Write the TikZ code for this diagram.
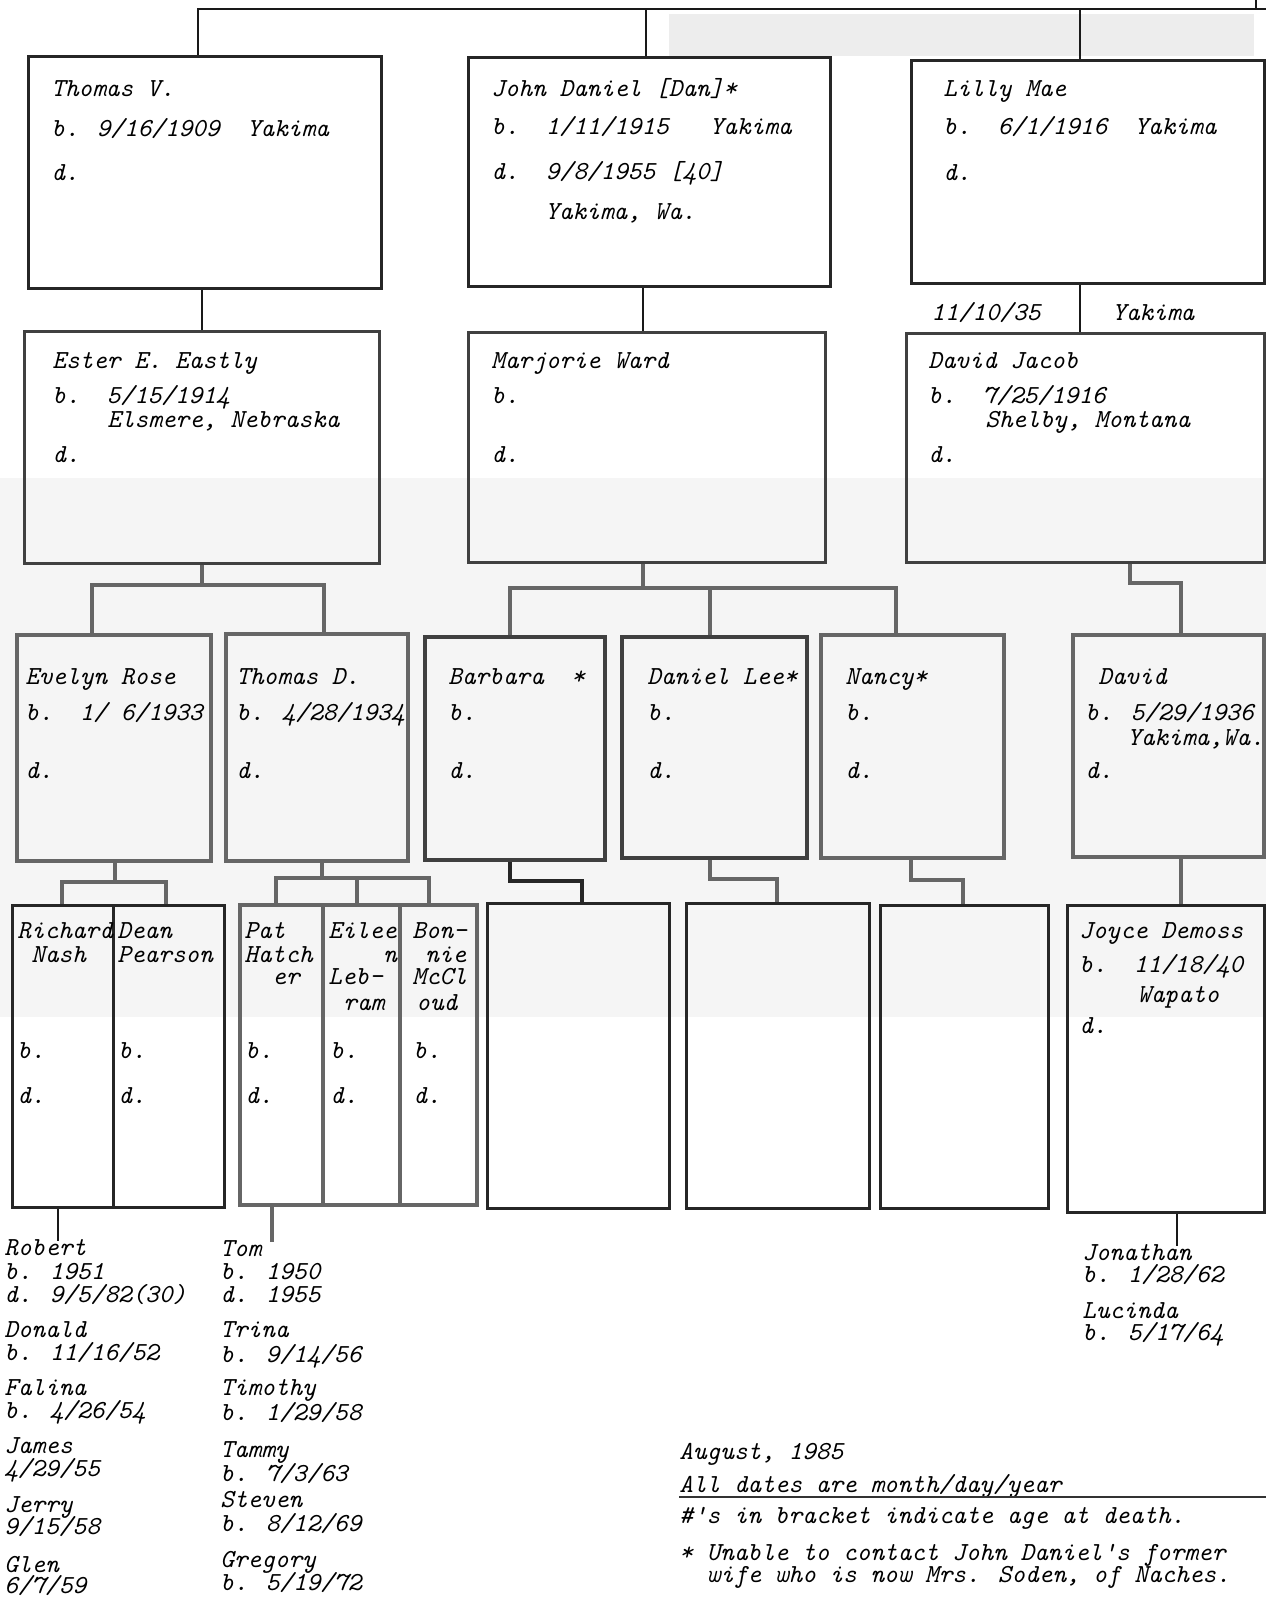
\documentclass[tikz,border=0pt]{standalone}
\usepackage{fontspec}
\usetikzlibrary{fit}
\newcommand\tw{\ttfamily\itshape\fontsize{13}{15}\selectfont}
\begin{document}
\begin{tikzpicture}[x=0.5pt,y=-0.5pt,
  boxa/.style={draw=black!85, line width=1.5pt, inner sep=0pt},
  boxb/.style={draw=black!60, line width=2pt, inner sep=0pt},
  link/.style={draw=black!90, line width=1pt},
  glink/.style={draw=black!60, line width=1.6pt},
  t/.style={anchor=west, inner sep=0pt, font=\tw, text=black, text height=7pt, text depth=1.8pt}]
\useasboundingbox (0,0) rectangle (1266,1601);
\fill[white] (0,0) rectangle (1266,1601);
% scan shading
\fill[black!4] (0,478) rectangle (1266,1017);
\fill[black!7] (669,14) rectangle (1254,56);
% helper coordinates
\coordinate (tr) at (1266,9);
\coordinate (tup) at (1256,0);
\coordinate (xa) at (198,0);
\coordinate (xb) at (646,0);
\coordinate (xc) at (1080,0);
\coordinate (xa2) at (202,0);
\coordinate (xb2) at (643,0);
\coordinate (h1) at (0,585);
\coordinate (e1) at (92,0);
\coordinate (e2) at (324,0);
\coordinate (h2) at (0,588);
\coordinate (m1) at (510,0);
\coordinate (m2) at (710,0);
\coordinate (m3) at (896,0);
\coordinate (h3) at (0,583);
\coordinate (xd1) at (1130,0);
\coordinate (xd2) at (1181,0);
\coordinate (h4) at (0,882);
\coordinate (p1) at (115,0);
\coordinate (p2) at (62,0);
\coordinate (p3) at (166,0);
\coordinate (h5) at (0,878);
\coordinate (q1) at (322,0);
\coordinate (q2) at (276,0);
\coordinate (q3) at (357,0);
\coordinate (q4) at (429,0);
\coordinate (h6) at (0,881);
\coordinate (r1) at (510,0);
\coordinate (r2) at (582,0);
\coordinate (h7) at (0,879);
\coordinate (s1) at (710,0);
\coordinate (s2) at (777,0);
\coordinate (h8) at (0,880);
\coordinate (u1) at (911,0);
\coordinate (u2) at (963,0);
\coordinate (v1) at (58,0);
\coordinate (v2) at (272,0);
\coordinate (v3) at (1177,0);
% row 1
\node[boxa, fit={(28,56) (381,288)}] (tv) {};
\node[boxa, fit={(468,57) (830,286)}] (jd) {};
\node[boxa, fit={(911,60) (1264,283)}] (lm) {};
% row 2
\node[boxa, draw=black!75, fit={(24,331) (379,563)}] (ee) {};
\node[boxa, draw=black!75, fit={(468,332) (825,562)}] (mw) {};
\node[boxa, draw=black!75, fit={(906,333) (1264,562)}] (dj) {};
% row 3
\node[boxb, fit={(17,635) (211,861)}] (er) {};
\node[boxb, fit={(226,634) (408,861)}] (td) {};
\node[boxb, draw=black!75, fit={(425,637) (605,860)}] (bb) {};
\node[boxb, draw=black!75, fit={(622,637) (807,858)}] (dl) {};
\node[boxb, fit={(821,635) (1004,858)}] (nc) {};
\node[boxb, fit={(1073,635) (1264,857)}] (dv) {};
% row 4
\node[boxa, fit={(12,905) (113,1207)}] (rn) {};
\node[boxa, fit={(113,905) (224,1207)}] (dp) {};
\node[boxb, fit={(240,905) (323,1205)}] (ph) {};
\node[boxb, fit={(323,905) (400,1205)}] (el) {};
\node[boxb, fit={(400,905) (477,1205)}] (bm) {};
\node[boxa, fit={(487,903) (669,1208)}] (bla) {};
\node[boxa, fit={(686,903) (869,1208)}] (blb) {};
\node[boxa, fit={(880,905) (1048,1208)}] (blc) {};
\node[boxa, fit={(1067,905) (1264,1212)}] (jy) {};
% texts row 1
\node[t] (t1a) at (51,91) {Thomas V.};
\node[t] (t1b) at (51,131) {b. 9/16/1909~~Yakima};
\node[t] (t1c) at (51,175) {d.};
\node[t] (t2a) at (491,91) {John Daniel [Dan]*};
\node[t] (t2b) at (491,129) {b.~~1/11/1915~~~Yakima};
\node[t] (t2c) at (491,174) {d.~~9/8/1955~[40]};
\node[t] (t2d) at (545,214) {Yakima, Wa.};
\node[t] (t3a) at (943,91) {Lilly Mae};
\node[t] (t3b) at (943,129) {b.~~6/1/1916~~Yakima};
\node[t] (t3c) at (943,175) {d.};
\node[t] (ma) at (931,315) {11/10/35};
\node[t] (mb) at (1112,315) {Yakima};
% texts row 2
\node[t] (t4a) at (52,363) {Ester E. Eastly};
\node[t] (t4b) at (52,398) {b.~~5/15/1914};
\node[t] (t4c) at (107,422) {Elsmere, Nebraska};
\node[t] (t4d) at (52,457) {d.};
\node[t] (t5a) at (491,363) {Marjorie Ward};
\node[t] (t5b) at (491,398) {b.};
\node[t] (t5c) at (491,457) {d.};
\node[t] (t6a) at (928,363) {David Jacob};
\node[t] (t6b) at (928,398) {b.~~7/25/1916};
\node[t] (t6c) at (985,422) {Shelby, Montana};
\node[t] (t6d) at (928,457) {d.};
% texts row 3
\node[t] (t7a) at (25,679) {Evelyn Rose};
\node[t] (t7b) at (25,715) {b.~~1/~6/1933};
\node[t] (t7c) at (25,773) {d.};
\node[t] (t8a) at (236,679) {Thomas D.};
\node[t] (t8b) at (236,715) {b. 4/28/1934};
\node[t] (t8c) at (236,773) {d.};
\node[t] (t9a) at (448,679) {Barbara~~*};
\node[t] (t9b) at (448,715) {b.};
\node[t] (t9c) at (448,773) {d.};
\node[t] (t10a) at (647,679) {Daniel Lee*};
\node[t] (t10b) at (647,715) {b.};
\node[t] (t10c) at (647,773) {d.};
\node[t] (t11a) at (845,679) {Nancy*};
\node[t] (t11b) at (845,715) {b.};
\node[t] (t11c) at (845,773) {d.};
\node[t] (t12a) at (1098,679) {David};
\node[t] (t12b) at (1085,715) {b. 5/29/1936};
\node[t] (t12c) at (1127,740) {Yakima,Wa.};
\node[t] (t12d) at (1085,773) {d.};
% texts row 4
\node[t] (r1a) at (17,933) {Richard};
\node[t] (r1b) at (31,957) {Nash};
\node[t] (r1c) at (17,1053) {b.};
\node[t] (r1d) at (17,1098) {d.};
\node[t] (r2a) at (117,933) {Dean};
\node[t] (r2b) at (117,957) {Pearson};
\node[t] (r2c) at (118,1053) {b.};
\node[t] (r2d) at (118,1098) {d.};
\node[t] (r3a) at (244,933) {Pat};
\node[t] (r3b) at (244,957) {Hatch};
\node[t] (r3c) at (272,979) {er};
\node[t] (r3d) at (245,1053) {b.};
\node[t] (r3e) at (245,1098) {d.};
\node[t] (r4a) at (328,933) {Eilee};
\node[t] (r4b) at (383,957) {n};
\node[t] (r4c) at (328,979) {Leb-};
\node[t] (r4d) at (343,1005) {ram};
\node[t] (r4e) at (330,1053) {b.};
\node[t] (r4f) at (330,1098) {d.};
\node[t] (r5a) at (412,933) {Bon-};
\node[t] (r5b) at (425,957) {nie};
\node[t] (r5c) at (412,979) {McCl};
\node[t] (r5d) at (416,1005) {oud};
\node[t] (r5e) at (413,1053) {b.};
\node[t] (r5f) at (413,1098) {d.};
\node[t] (r6a) at (1079,933) {Joyce Demoss};
\node[t] (r6b) at (1079,967) {b.~~11/18/40};
\node[t] (r6c) at (1137,997) {Wapato};
\node[t] (r6d) at (1079,1028) {d.};
% children lists
\node[t] (ca1) at (4,1250) {Robert};
\node[t] (ca2) at (4,1274) {b. 1951};
\node[t] (ca3) at (4,1297) {d. 9/5/82(30)};
\node[t] (ca4) at (4,1332) {Donald};
\node[t] (ca5) at (4,1355) {b. 11/16/52};
\node[t] (ca6) at (4,1390) {Falina};
\node[t] (ca7) at (4,1413) {b. 4/26/54};
\node[t] (ca8) at (4,1448) {James};
\node[t] (ca9) at (4,1471) {4/29/55};
\node[t] (ca10) at (4,1507) {Jerry};
\node[t] (ca11) at (4,1529) {9/15/58};
\node[t] (ca12) at (4,1567) {Glen};
\node[t] (ca13) at (4,1588) {6/7/59};
\node[t] (cb1) at (220,1251) {Tom};
\node[t] (cb2) at (220,1274) {b. 1950};
\node[t] (cb3) at (220,1297) {d. 1955};
\node[t] (cb4) at (220,1332) {Trina};
\node[t] (cb5) at (220,1357) {b. 9/14/56};
\node[t] (cb6) at (220,1390) {Timothy};
\node[t] (cb7) at (220,1415) {b. 1/29/58};
\node[t] (cb8) at (220,1452) {Tammy};
\node[t] (cb9) at (220,1476) {b. 7/3/63};
\node[t] (cb10) at (220,1502) {Steven};
\node[t] (cb11) at (220,1526) {b. 8/12/69};
\node[t] (cb12) at (220,1562) {Gregory};
\node[t] (cb13) at (220,1585) {b. 5/19/72};
\node[t] (cc1) at (1082,1255) {Jonathan};
\node[t] (cc2) at (1082,1277) {b. 1/28/62};
\node[t] (cc3) at (1082,1313) {Lucinda};
\node[t] (cc4) at (1082,1335) {b. 5/17/64};
% notes
\node[t] (n1) at (679,1454) {August, 1985};
\node[t] (n2) at (679,1487) {All dates are month/day/year};
\node[t] (n3) at (679,1518) {\#'s in bracket indicate age at death.};
\node[t] (n4) at (679,1555) {* Unable to contact John Daniel's former};
\node[t] (n5) at (679,1577) {~~wife who is now Mrs. Soden, of Naches.};
\draw[black!80, line width=1.2pt] (n2.west |- 0,1497) -- (1266,1497);
% connectors generation 1
\draw[link] (tv.north -| xa) |- (tr);
\draw[link] (jd.north -| xb) -- (xb |- tr);
\draw[link] (lm.north -| xc) -- (xc |- tr);
\draw[link] (tup) -- (tup |- tr);
% marriages
\draw[link] (tv.south -| xa2) -- (ee.north -| xa2);
\draw[link] (jd.south -| xb2) -- (mw.north -| xb2);
\draw[link] (lm.south -| xc) -- (dj.north -| xc);
% to row 3
\draw[glink] (ee.south -| xa2) -- (xa2 |- h1);
\draw[glink] (er.north -| e1) |- (e2 |- h1) -- (td.north -| e2);
\draw[glink] (mw.south -| xb2) -- (xb2 |- h2);
\draw[glink] (bb.north -| m1) |- (m3 |- h2) -- (nc.north -| m3);
\draw[glink] (dl.north -| m2) -- (m2 |- h2);
\draw[glink] (dj.south -| xd1) |- (xd2 |- h3) -- (dv.north -| xd2);
% to row 4
\draw[glink] (er.south -| p1) -- (p1 |- h4);
\draw[glink] (rn.north -| p2) |- (p3 |- h4) -- (dp.north -| p3);
\draw[glink] (td.south -| q1) -- (q1 |- h5);
\draw[glink] (ph.north -| q2) |- (q4 |- h5) -- (bm.north -| q4);
\draw[glink] (el.north -| q3) -- (q3 |- h5);
\draw[glink, draw=black!85] (bb.south -| r1) |- (r2 |- h6) -- (bla.north -| r2);
\draw[glink] (dl.south -| s1) |- (s2 |- h7) -- (blb.north -| s2);
\draw[glink] (nc.south -| u1) |- (u2 |- h8) -- (blc.north -| u2);
\draw[glink] (dv.south -| xd2) -- (jy.north -| xd2);
% to children
\draw[link, line width=1.4pt] (rn.south -| v1) -- (ca1.north -| v1);
\draw[glink] (ph.south -| v2) -- (cb1.north -| v2);
\draw[link, line width=1.4pt] (jy.south -| v3) -- (cc1.north -| v3);
\end{tikzpicture}
\end{document}
